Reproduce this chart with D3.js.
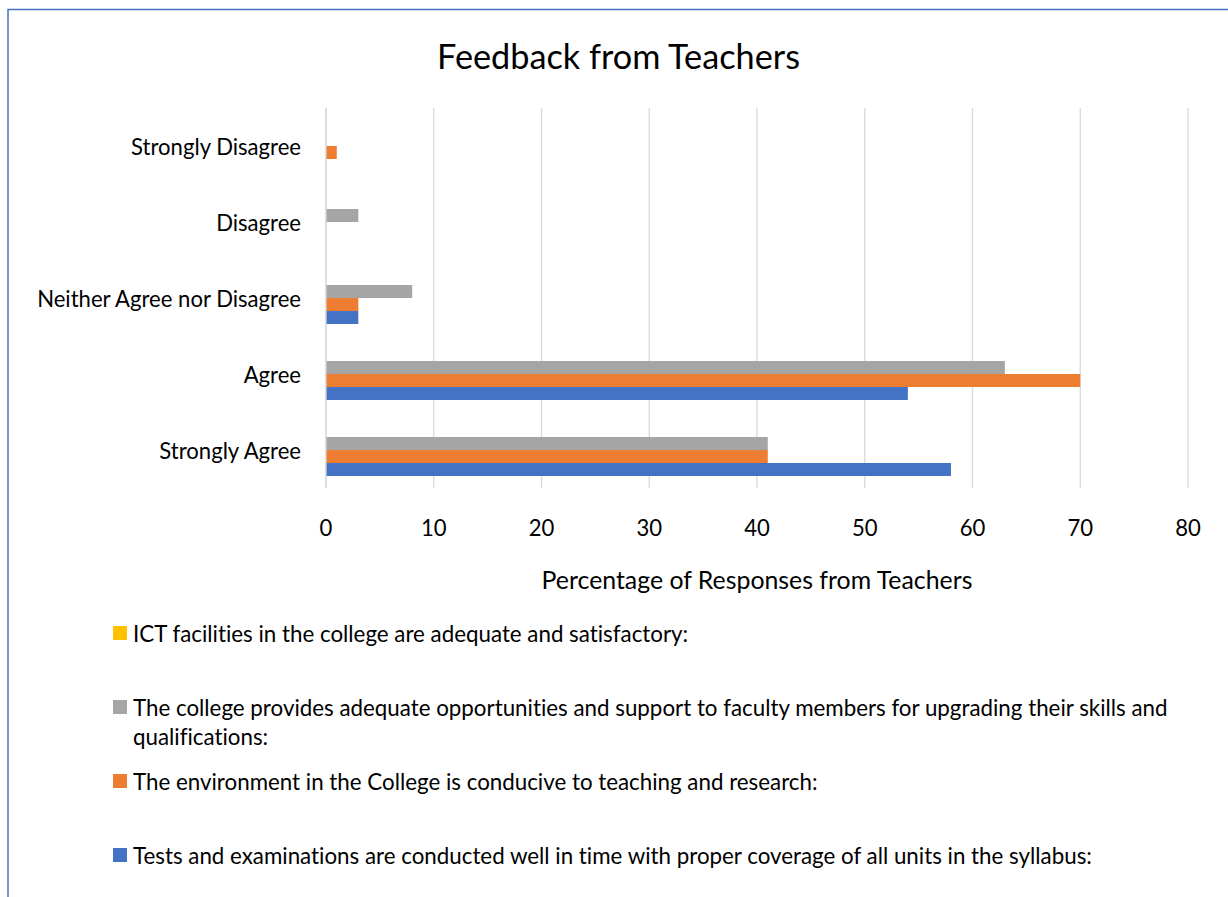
<!DOCTYPE html>
<html>
<head>
<meta charset="utf-8">
<script src="https://cdn.jsdelivr.net/npm/d3@7"></script>
<style>
  html, body { margin: 0; padding: 0; background: #fff; }
  svg { display: block; }
  text { font-family: Lato, "Open Sans", "Noto Sans", sans-serif; fill: #000; font-variant-ligatures: none; font-feature-settings: "liga" 0, "clig" 0; }
</style>
</head>
<body>
<svg id="chart" width="1228" height="897"></svg>
<script>
// ---- Data ----
const categories = ["Strongly Agree", "Agree", "Neither Agree nor Disagree", "Disagree", "Strongly Disagree"];
const seriesNames = [
  "Tests and examinations are conducted well in time with proper coverage of all units in the syllabus:",
  "The environment in the College is conducive to teaching and research:",
  "The college provides adequate opportunities and support to faculty members for upgrading their skills and qualifications:",
  "ICT facilities in the college are adequate and satisfactory:"
];
const testsValues = [58, 54, 3, 0, 0];
const environmentValues = [41, 70, 3, 0, 1];
const collegeValues = [41, 63, 8, 3, 0];
const ictValues = [0, 0, 0, 0, 0];
const seriesColors = ["#4472C4", "#ED7D31", "#A5A5A5", "#FFC000"];
const xTicks = [0, 10, 20, 30, 40, 50, 60, 70, 80];
const chartTitle = "Feedback from Teachers";
const xAxisTitle = "Percentage of Responses from Teachers";

const seriesValues = [testsValues, environmentValues, collegeValues, ictValues];

// ---- Layout ----
const svg = d3.select("#chart");
const plot = { left: 326, right: 1188, top: 108, bottom: 488 };

function fitText(sel, target) {
  const base = 20;
  sel.style("font-size", base + "px");
  const w = sel.node().getComputedTextLength();
  const size = base * target / w;
  sel.style("font-size", size + "px");
  return size;
}

// border
svg.append("path")
  .attr("d", "M8,897 L8,9.5 L1228,9.5")
  .attr("fill", "none")
  .attr("stroke", "#4472C4")
  .attr("stroke-width", 1.5);

// scales
const x = d3.scaleLinear().domain([0, 80]).range([plot.left, plot.right]);
const y = d3.scaleBand().domain(categories).range([plot.bottom, plot.top])
  .paddingInner(0.316).paddingOuter(0.158);
const stackOrder = [3, 2, 1, 0]; // top to bottom within group: ICT, college, environment, tests
const y1 = d3.scaleBand().domain(stackOrder).range([0, y.bandwidth()]);

// gridlines
svg.append("g").selectAll("line").data(xTicks).join("line")
  .attr("x1", d => x(d)).attr("x2", d => x(d))
  .attr("y1", plot.top).attr("y2", plot.bottom)
  .attr("stroke", "#d9d9d9").attr("stroke-width", 1.3);

// bars
const groups = svg.append("g").selectAll("g").data(categories).join("g")
  .attr("transform", d => `translate(0,${y(d)})`);
groups.selectAll("rect")
  .data((c, ci) => stackOrder.map(si => ({ si, v: seriesValues[si][ci] })))
  .join("rect")
  .attr("x", x(0))
  .attr("y", d => y1(d.si))
  .attr("width", d => x(d.v) - x(0))
  .attr("height", y1.bandwidth())
  .attr("fill", d => seriesColors[d.si]);

// axis line at 0 on top
svg.append("line")
  .attr("x1", x(0)).attr("x2", x(0))
  .attr("y1", plot.top).attr("y2", plot.bottom)
  .attr("stroke", "#d9d9d9").attr("stroke-width", 1.3);

// category labels
const catLabels = svg.append("g").selectAll("text").data(categories).join("text")
  .attr("x", 301)
  .attr("y", d => y(d) + y.bandwidth() / 2)
  .attr("text-anchor", "end")
  .attr("dominant-baseline", "central")
  .text(d => d);
const refCat = catLabels.filter(d => d === "Neither Agree nor Disagree");
const labelSize = fitText(refCat, 264);
catLabels.style("font-size", labelSize + "px");

// x tick labels
svg.append("g").selectAll("text").data(xTicks).join("text")
  .attr("x", d => x(d))
  .attr("y", 527)
  .attr("text-anchor", "middle")
  .attr("dominant-baseline", "central")
  .style("font-size", labelSize + "px")
  .text(d => d);

// axis title
const axT = svg.append("text")
  .attr("x", (plot.left + plot.right) / 2)
  .attr("y", 579)
  .attr("text-anchor", "middle")
  .attr("dominant-baseline", "central")
  .text(xAxisTitle);
fitText(axT, 431);

// chart title
const tT = svg.append("text")
  .attr("x", 618.5)
  .attr("y", 55)
  .attr("text-anchor", "middle")
  .attr("dominant-baseline", "central")
  .text(chartTitle);
fitText(tT, 363);

// legend
const legendRows = [
  { si: 3, lines: [seriesNames[3]], cy: 633 },
  { si: 2, lines: ["The college provides adequate opportunities and support to faculty members for upgrading their skills and", "qualifications:"], cy: 707 },
  { si: 1, lines: [seriesNames[1]], cy: 781 },
  { si: 0, lines: [seriesNames[0]], cy: 855 }
];
const lg = svg.append("g");
lg.selectAll("rect").data(legendRows).join("rect")
  .attr("x", 113).attr("y", d => d.cy - 7)
  .attr("width", 14).attr("height", 14)
  .attr("fill", d => seriesColors[d.si]);
const lt = lg.selectAll("text").data(legendRows).join("text")
  .attr("x", 133)
  .attr("y", d => d.cy)
  .attr("dominant-baseline", "central");
lt.selectAll("tspan").data(d => d.lines).join("tspan")
  .attr("x", 133)
  .attr("dy", (d, i) => i === 0 ? 0 : 29)
  .text(d => d);
const tmp = svg.append("text").text(legendRows[1].lines[0]);
const legSize = fitText(tmp, 1035);
tmp.remove();
lt.style("font-size", legSize + "px");
</script>
</body>
</html>
